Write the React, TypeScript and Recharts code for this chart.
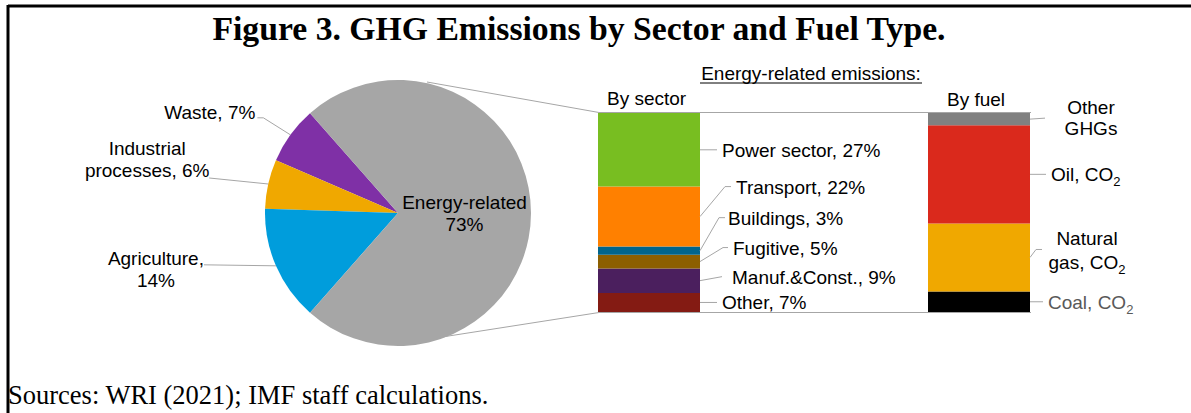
import React from 'react';
import { PieChart, Pie, Cell, BarChart, Bar, XAxis, YAxis } from 'recharts';

const W = 1191;
const H = 413;
const SANS = '"Liberation Sans", Arial, sans-serif';
const SERIF = '"Liberation Serif", "Times New Roman", serif';
const LEADER = '#A6A6A6';

// share of total GHG emissions, %
const pieNames = ['Waste', 'Industrial processes', 'Agriculture', 'Energy-related'];
const pieShares = [7, 6, 14, 73];
const pieLabelLines = [['Waste, 7%'], ['Industrial', 'processes, 6%'], ['Agriculture,', '14%'], ['Energy-related', '73%']];
const pieColors = ['#7F30A6', '#F0A800', '#009DDC', '#A6A6A6'];

// energy-related emissions by sector (bottom to top), % of total
const sectorKeys = ['other', 'manuf', 'fugitive', 'buildings', 'transport', 'power'];
const sectorNames = ['Other', 'Manuf.&Const.', 'Fugitive', 'Buildings', 'Transport', 'Power sector'];
const sectorShares = [7, 9, 5, 3, 22, 27];
const sectorColors = ['#841B13', '#4B1F5E', '#8C5F00', '#00658C', '#FF8000', '#78BE21'];

// energy-related emissions by fuel (bottom to top), % of total
const fuelKeys = ['coal', 'gas', 'oil', 'otherGhg'];
const fuelLabelLines = [['Coal, CO2'], ['Natural', 'gas, CO2'], ['Oil, CO2'], ['Other', 'GHGs']];
const fuelShares = [7.5, 25, 36, 4.5];
const fuelColors = ['#000000', '#F0A800', '#DA291C', '#808080'];

const barCategories = ['By sector', 'By fuel'];

const pieData = pieNames.map((name, i) => ({ name, value: pieShares[i] }));

const barRows = barCategories.map((cat, row) => {
  const r: Record<string, any> = { cat };
  sectorKeys.forEach((k, i) => (r[k] = row === 0 ? sectorShares[i] : 0));
  fuelKeys.forEach((k, i) => (r[k] = row === 1 ? fuelShares[i] : 0));
  return r;
});

const barMax = Math.max(
  sectorShares.reduce((a, b) => a + b, 0),
  fuelShares.reduce((a, b) => a + b, 0)
);

// non-energy slices are centred on the left side
const nonEnergy = pieShares.slice(0, 3).reduce((a, b) => a + b, 0);
const pieStart = 180 - (nonEnergy * 3.6) / 2;

// leader / text placement (offsets from the segment centre on the bar's right edge)
const sectorLayout = [
  { dy: 0, elbow: 17, tail: 0, text: 22 },
  { dy: -4, elbow: 22, tail: 0, text: 32 },
  { dy: -14, elbow: 23, tail: 5, text: 33 },
  { dy: -33, elbow: 19, tail: 6, text: 28 },
  { dy: -30, elbow: 25, tail: 6, text: 36 },
  { dy: 0, elbow: 17, tail: 0, text: 22 },
];
const fuelLayout = [
  { dy: 0, elbow: 13, tail: 0, text: 18, anchor: 'start', lines: [0], color: '#595959' },
  { dy: -8, elbow: 6, tail: 6, text: 57, anchor: 'middle', lines: [-19, 5], color: '#000' },
  { dy: 0, elbow: 16, tail: 0, text: 21, anchor: 'start', lines: [0], color: '#000' },
  { dy: -1, elbow: 15, tail: 0, text: 61, anchor: 'middle', lines: [-12, 9], color: '#000' },
];
// offsets from the slice's outer edge at its mid angle
const pieLayout = [
  { pts: [[-27, -17], [-33, -17]], tx: -35, anchor: 'end', lines: [-23] },
  { pts: [[-59, -6]], tx: -121, anchor: 'middle', lines: [-36, -14] },
  { pts: [[-72, -1]], tx: -120, anchor: 'middle', lines: [-8, 14] },
  { pts: [], tx: 0, anchor: 'middle', lines: [-11, 11] },
];

const withSub = (s: string) => {
  const idx = s.indexOf('CO2');
  if (idx < 0) return s;
  return (
    <>
      {s.slice(0, idx + 2)}
      <tspan dy={5} fontSize={13}>2</tspan>
    </>
  );
};

const hasHeight = (p: any) => Math.abs(Number(p.height)) > 0.5;

const renderSectorLabel = (i: number) => (p: any) => {
  if (!hasHeight(p) || Number(p.x) > 800) return null;
  const x0 = Number(p.x) + Number(p.width);
  const y0 = Number(p.y) + Number(p.height) / 2;
  const L = sectorLayout[i];
  const ty = y0 + L.dy;
  return (
    <g key={`sl-${i}`}>
      <polyline
        points={`${x0},${y0} ${x0 + L.elbow},${ty} ${x0 + L.elbow + L.tail},${ty}`}
        fill="none"
        stroke={LEADER}
        strokeWidth={1}
      />
      <text x={x0 + L.text} y={ty + 7} fontSize={19} fontFamily={SANS} fill="#000">
        {`${sectorNames[i]}, ${sectorShares[i]}%`}
      </text>
    </g>
  );
};

const renderFuelLabel = (i: number) => (p: any) => {
  if (!hasHeight(p) || Number(p.x) < 800) return null;
  const x0 = Number(p.x) + Number(p.width);
  const y0 = Number(p.y) + Number(p.height) / 2;
  const L = fuelLayout[i];
  const ty = y0 + L.dy;
  return (
    <g key={`fl-${i}`}>
      <polyline
        points={`${x0},${y0} ${x0 + L.elbow},${ty} ${x0 + L.elbow + L.tail},${ty}`}
        fill="none"
        stroke={LEADER}
        strokeWidth={1}
      />
      {fuelLabelLines[i].map((line, j) => (
        <text
          key={j}
          x={x0 + L.text}
          y={y0 + L.lines[j] + 7}
          fontSize={19}
          fontFamily={SANS}
          fill={L.color}
          textAnchor={L.anchor as any}
        >
          {withSub(line)}
        </text>
      ))}
    </g>
  );
};

const RAD = Math.PI / 180;

const renderPieLabel = (p: any) => {
  const i = p.index;
  const L = pieLayout[i];
  const cos = Math.cos(-p.midAngle * RAD);
  const sin = Math.sin(-p.midAngle * RAD);
  if (L.pts.length === 0) {
    const tx = p.cx + p.outerRadius * 0.5 * cos;
    const ty = p.cy + p.outerRadius * 0.5 * sin;
    return (
      <g key={`pl-${i}`}>
        {pieLabelLines[i].map((line, j) => (
          <text key={j} x={tx} y={ty + L.lines[j] + 7} fontSize={19} fontFamily={SANS} fill="#000" textAnchor="middle">
            {line}
          </text>
        ))}
      </g>
    );
  }
  const ex = p.cx + p.outerRadius * cos;
  const ey = p.cy + p.outerRadius * sin;
  const pts = [[ex, ey], ...L.pts.map(([dx, dy]) => [ex + dx, ey + dy])];
  return (
    <g key={`pl-${i}`}>
      <polyline points={pts.map((q) => q.join(',')).join(' ')} fill="none" stroke={LEADER} strokeWidth={1} />
      {pieLabelLines[i].map((line, j) => (
        <text
          key={j}
          x={ex + L.tx}
          y={ey + L.lines[j] + 7}
          fontSize={19}
          fontFamily={SANS}
          fill="#000"
          textAnchor={L.anchor as any}
        >
          {line}
        </text>
      ))}
    </g>
  );
};

const layer: React.CSSProperties = { position: 'absolute', left: 0, top: 0 };

export default function App() {
  return (
    <div style={{ position: 'absolute', left: 0, top: 0, width: W, height: H, background: '#fff', overflow: 'hidden' }}>
      <svg width={W} height={H} style={layer}>
        <line x1={8} y1={6} x2={W} y2={6} stroke="#000" strokeWidth={3} />
        <line x1={8} y1={5} x2={8} y2={H} stroke="#000" strokeWidth={3} />
        <text x={579} y={40} textAnchor="middle" fontFamily={SERIF} fontWeight="bold" fontSize={33.7} fill="#000">
          Figure 3. GHG Emissions by Sector and Fuel Type.
        </text>
        <text x={811} y={80} textAnchor="middle" fontFamily={SANS} fontSize={19} fill="#000">
          Energy-related emissions:
        </text>
        <line x1={700} y1={83} x2={922} y2={83} stroke="#000" strokeWidth={1} />
        <text x={607} y={105} fontFamily={SANS} fontSize={19} fill="#000">
          {barCategories[0]}
        </text>
        <text x={976} y={106} textAnchor="middle" fontFamily={SANS} fontSize={19} fill="#000">
          {barCategories[1]}
        </text>
        <polyline points="427,82 599,112.5 1031,112.5" fill="none" stroke={LEADER} strokeWidth={1} />
        <polyline points="423,340 599,312.5 1031,312.5" fill="none" stroke={LEADER} strokeWidth={1} />
        <text x={8} y={404} fontFamily={SERIF} fontSize={26.5} fill="#000">
          Sources: WRI (2021); IMF staff calculations.
        </text>
      </svg>

      <div style={layer}>
        <PieChart width={W} height={H} margin={{ top: 0, right: 0, bottom: 0, left: 0 }}>
          <Pie
            data={pieData}
            dataKey="value"
            nameKey="name"
            cx={398}
            cy={213}
            outerRadius={133}
            startAngle={pieStart}
            endAngle={pieStart + 360}
            stroke="none"
            label={renderPieLabel}
            labelLine={false}
            isAnimationActive={false}
          >
            {pieData.map((d, i) => (
              <Cell key={d.name} fill={pieColors[i]} />
            ))}
          </Pie>
        </PieChart>
      </div>

      <div style={layer}>
        <BarChart
          width={W}
          height={H}
          data={barRows}
          margin={{ top: 113, right: 47, bottom: 101, left: 484 }}
          barSize={102}
        >
          <XAxis dataKey="cat" hide />
          <YAxis type="number" domain={[0, barMax]} hide />
          {sectorKeys.map((k, i) => (
            <Bar
              key={k}
              dataKey={k}
              stackId="e"
              fill={sectorColors[i]}
              label={renderSectorLabel(i)}
              isAnimationActive={false}
            />
          ))}
          {fuelKeys.map((k, i) => (
            <Bar
              key={k}
              dataKey={k}
              stackId="e"
              fill={fuelColors[i]}
              label={renderFuelLabel(i)}
              isAnimationActive={false}
            />
          ))}
        </BarChart>
      </div>
    </div>
  );
}
